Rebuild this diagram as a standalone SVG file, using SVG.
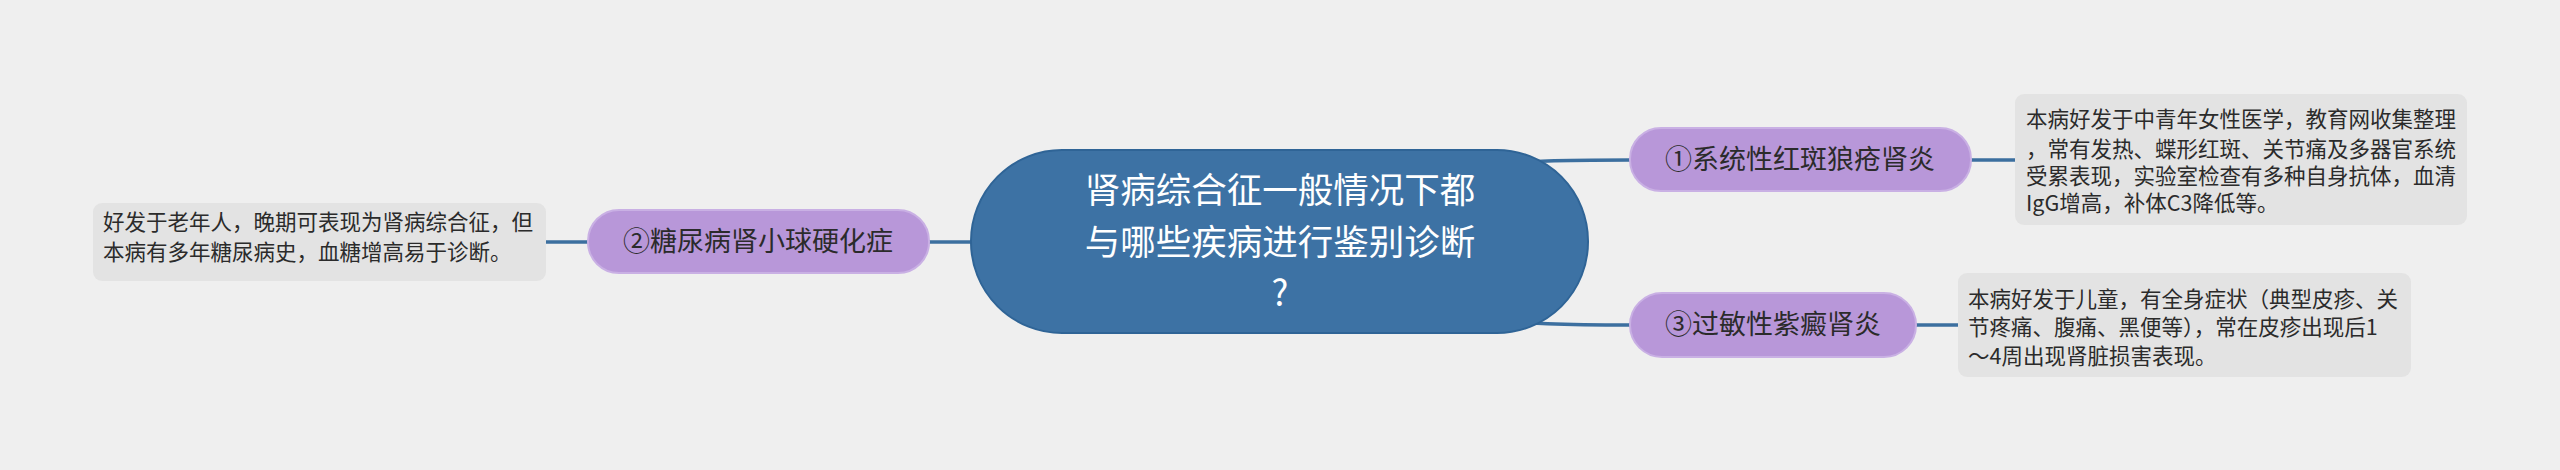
<svg xmlns="http://www.w3.org/2000/svg" width="2560" height="470" viewBox="0 0 2560 470">
<style>
.bg{fill:#efefef}
.conn{fill:none;stroke:#3c6f9f;stroke-width:3.5}
.central{fill:#3d72a4;stroke:#2f6496;stroke-width:2}
.branch{fill:#b897d9;stroke:#c9b0e4;stroke-width:2}
.note{fill:#e3e3e3}
.t{font-family:"Noto Sans CJK SC","Noto Sans",sans-serif}
.ct{fill:#ffffff;font-size:35.5px}
.bt{fill:#2b2b2b;font-size:27px}
.nt{fill:#2b2b2b;font-size:21.5px}
</style>
<rect class="bg" x="0" y="0" width="2560" height="470"/>
<g id="connectors">
<path class="conn" d="M1450,168 C1540,160 1560,160 1630,160"/>
<path class="conn" d="M1450,318 C1540,324 1560,325 1630,325"/>
<path class="conn" d="M929,242 L975,242"/>
<path class="conn" d="M1971,160 L2015,160"/>
<path class="conn" d="M1916,325 L1958,325"/>
<path class="conn" d="M546,242 L588,242"/>
</g>
<g id="central">
<rect class="central" x="971" y="150" width="617" height="183" rx="91" ry="91"/>
<text class="t ct" x="1280" y="203" text-anchor="middle">肾病综合征一般情况下都</text>
<text class="t ct" x="1280" y="255" text-anchor="middle">与哪些疾病进行鉴别诊断</text>
<text class="t ct" x="1280" y="306" text-anchor="middle">?</text>
</g>
<g id="branch1">
<rect class="branch" x="1630" y="128" width="341" height="63" rx="31" ry="31"/>
<text class="t bt" x="1800" y="169" text-anchor="middle">①系统性红斑狼疮肾炎</text>
</g>
<g id="note1">
<rect class="note" x="2015" y="94" width="452" height="131" rx="9" ry="9"/>
<text class="t nt" x="2026" y="127">本病好发于中青年女性医学，教育网收集整理</text>
<text class="t nt" x="2026" y="157">，常有发热、蝶形红斑、关节痛及多器官系统</text>
<text class="t nt" x="2026" y="184">受累表现，实验室检查有多种自身抗体，血清</text>
<text class="t nt" x="2026" y="211">IgG增高，补体C3降低等。</text>
</g>
<g id="branch3">
<rect class="branch" x="1630" y="293" width="286" height="64" rx="32" ry="32"/>
<text class="t bt" x="1773" y="334" text-anchor="middle">③过敏性紫癜肾炎</text>
</g>
<g id="note3">
<rect class="note" x="1958" y="273" width="453" height="104" rx="9" ry="9"/>
<text class="t nt" x="1968" y="307">本病好发于儿童，有全身症状（典型皮疹、关</text>
<text class="t nt" x="1968" y="335">节疼痛、腹痛、黑便等），常在皮疹出现后1</text>
<text class="t nt" x="1968" y="364">～4周出现肾脏损害表现。</text>
</g>
<g id="branch2">
<rect class="branch" x="588" y="210" width="341" height="63" rx="31" ry="31"/>
<text class="t bt" x="758" y="251" text-anchor="middle">②糖尿病肾小球硬化症</text>
</g>
<g id="note2">
<rect class="note" x="93" y="203" width="453" height="78" rx="9" ry="9"/>
<text class="t nt" x="103" y="230">好发于老年人，晚期可表现为肾病综合征，但</text>
<text class="t nt" x="103" y="260">本病有多年糖尿病史，血糖增高易于诊断。</text>
</g>
</svg>
